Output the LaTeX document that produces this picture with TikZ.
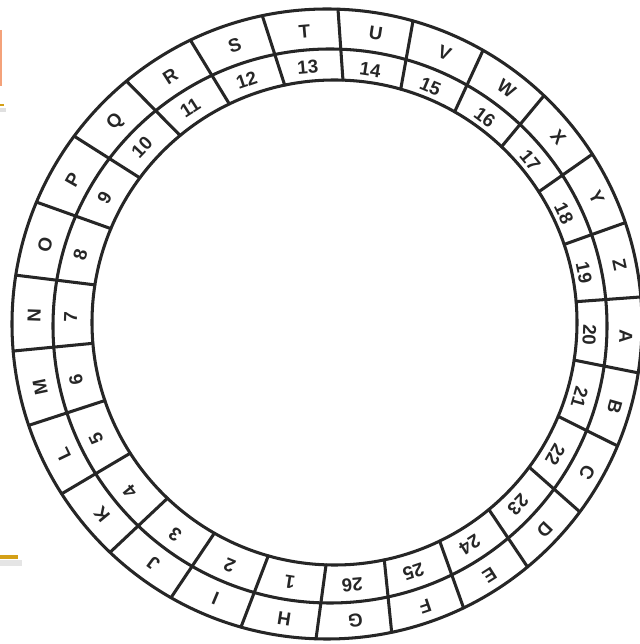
\documentclass[tikz,border=0pt]{standalone}
\usepackage{fontspec}
\setsansfont{Liberation Sans}
\usetikzlibrary{calc}
\definecolor{accentgold}{HTML}{D4A017}
\definecolor{accentorange}{HTML}{F4A27A}
\begin{document}
\begin{tikzpicture}[x=0.03cm,y=0.03cm,
        ring/.style={line width=2.6pt,draw=black!85,line cap=round},
        lbl/.style={font=\sffamily\bfseries\fontsize{16}{16}\selectfont,text=black!85,inner sep=0pt}]
    \useasboundingbox (0,0) rectangle (639,644);
    % centres of the three (hand drawn) circles
    \coordinate (co) at (327,320);
    \coordinate (cm) at (330,318);
    \coordinate (ci) at (334.5,321.5);
    \draw[ring] (co) circle (315);
    \draw[ring] (cm) circle (277);
    \draw[ring] (ci) circle (242.5);
    \foreach \k in {0,...,25}{
        \pgfmathsetmacro{\t}{88-13.846*\k}
        \draw[ring] ($(ci)+(\t:242.5)$) -- ($(co)+(\t:315)$);
    }
    % letters on the outer ring
    \foreach \c [count=\j from 0] in {A,...,Z}{
        \pgfmathsetmacro{\a}{-2-13.846*\j}
        \node[lbl,rotate=\a-90] (L\c) at ($(cm)+(\a:296)$) {\c};
    }
    % numbers on the inner ring
    \foreach \n in {1,...,26}{
        \pgfmathsetmacro{\a}{-2-13.846*(\n-20)}
        \node[lbl,rotate=\a-90] (N\n) at ($(cm)+(\a:259.5)$) {\n};
    }
    % bits of the slide at the left edge
    \draw[line width=2.4pt,accentorange] (0.8,614) coordinate(o1) -- (0.8,558) coordinate(o2);
    \draw[line width=4pt,black!12] (0,534) coordinate(g1) -- (6,534);
    \draw[line width=2.2pt,accentgold] (0,539) -- (4,539);
    \draw[line width=5pt,black!10] (0,81) coordinate(g2) -- (22,81);
    \draw[line width=2.6pt,accentgold] (0,87) -- (18,87);
\end{tikzpicture}
\end{document}
